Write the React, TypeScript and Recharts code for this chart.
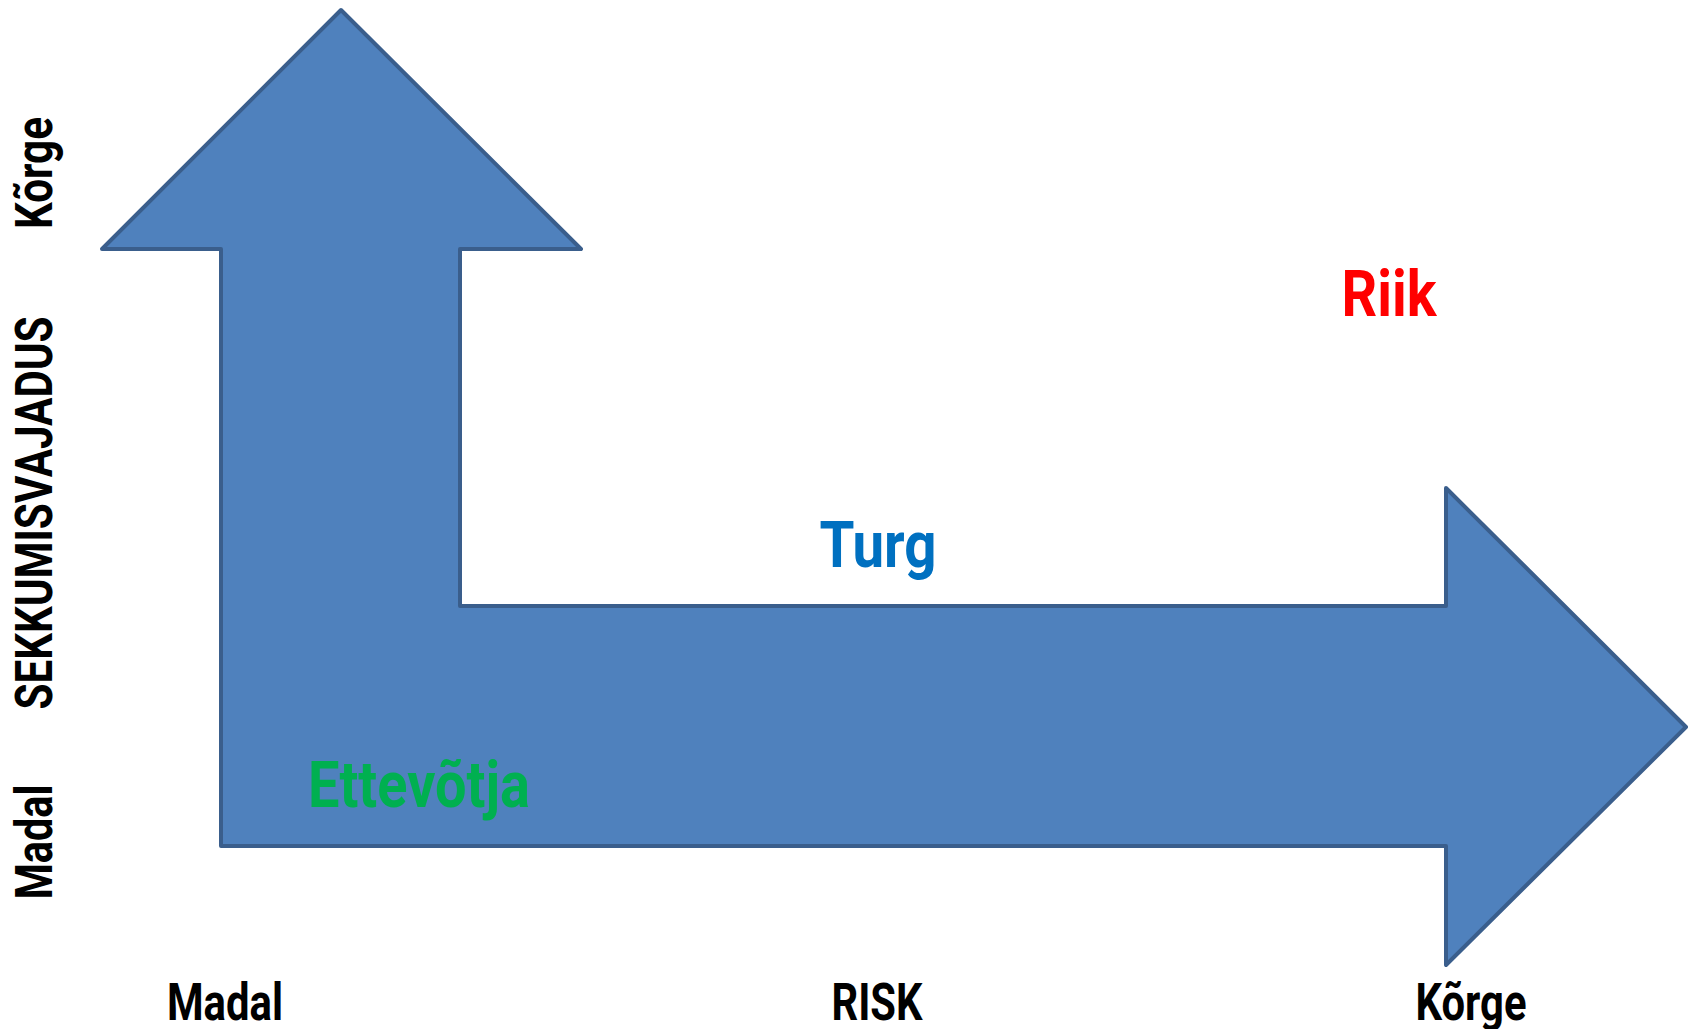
import { ScatterChart, Scatter, XAxis, YAxis } from "recharts";

const CHART_W = 1692;
const CHART_H = 1029;

// arrow outline (x = risk, y = need for intervention), plot units
const arrowX = [261, 501, 380, 380, 1366, 1366, 1606, 1366, 1366, 141, 141, 22];
const arrowY = [960, 721, 721, 364, 364, 482, 243, 5, 124, 124, 721, 721];

// actors placed on the arrow
const actorNames = ["Ettevõtja", "Turg", "Riik"];
const actorX = [339, 798, 1309];
const actorY = [163, 403, 654];

// axis ticks
const riskTicks = [145, 797, 1391];
const riskLabels = ["Madal", "RISK", "Kõrge"];
const needTicks = [128, 457, 797];
const needLabels = ["Madal", "SEKKUMISVAJADUS", "Kõrge"];

const ACTOR_COLORS = ["#00B050", "#0070C0", "#FF0000"];
const ACTOR_WIDTHS = [222, 117, 95];
const RISK_WIDTHS = [116, 91, 111];
const NEED_WIDTHS = [115, 393, 112];
const FONT = "Roboto, 'Liberation Sans', sans-serif";

const arrowData = arrowX.map((x, i) => ({ x, y: arrowY[i] }));
const actorData = actorNames.map((name, i) => ({ x: actorX[i], y: actorY[i], name, i }));

const ArrowShape = (props: any) => {
  const pts = props.points || [];
  const d = pts.map((p: any, i: number) => `${i === 0 ? "M" : "L"}${p.x},${p.y}`).join(" ") + " Z";
  return <path d={d} fill="#4F81BD" stroke="#3A5E8C" strokeWidth={4} strokeLinejoin="round" />;
};

const RiskTick = (props: any) => {
  const { x, y, payload } = props;
  const i = riskTicks.indexOf(payload.value);
  return (
    <text x={x} y={y + 50} textAnchor="middle" fontFamily={FONT} fontWeight={700} fontSize={52} fill="#000"
      textLength={RISK_WIDTHS[i]} lengthAdjust="spacingAndGlyphs">
      {riskLabels[i]}
    </text>
  );
};

const NeedTick = (props: any) => {
  const { x, y, payload } = props;
  const i = needTicks.indexOf(payload.value);
  const bx = x - 28;
  return (
    <text x={bx} y={y} transform={`rotate(-90, ${bx}, ${y})`} textAnchor="middle" fontFamily={FONT}
      fontWeight={700} fontSize={52} fill="#000" textLength={NEED_WIDTHS[i]} lengthAdjust="spacingAndGlyphs">
      {needLabels[i]}
    </text>
  );
};

const ActorLabel = (props: any) => {
  const { cx, cy, payload } = props;
  const i = payload.i;
  return (
    <text x={cx} y={cy} textAnchor="middle" fontFamily={FONT} fontWeight={700} fontSize={65}
      fill={ACTOR_COLORS[i]} textLength={ACTOR_WIDTHS[i]} lengthAdjust="spacingAndGlyphs">
      {payload.name}
    </text>
  );
};

export default function App() {
  return (
    <div style={{ position: "absolute", left: 0, top: 0, width: CHART_W, height: CHART_H, background: "#fff" }}>
      <ScatterChart width={CHART_W} height={CHART_H} margin={{ top: 0, right: 0, bottom: 0, left: 0 }}>
        <XAxis type="number" dataKey="x" domain={[0, 1612]} ticks={riskTicks} height={59}
          axisLine={false} tickLine={false} tickSize={0} tickMargin={0} tick={<RiskTick />} interval={0} />
        <YAxis type="number" dataKey="y" domain={[0, 970]} ticks={needTicks} width={80}
          axisLine={false} tickLine={false} tickSize={0} tickMargin={0} tick={<NeedTick />} interval={0} />
        <Scatter data={arrowData} isAnimationActive={false} line={ArrowShape} lineType="joint"
          shape={() => <g />} />
        <Scatter data={actorData} isAnimationActive={false} shape={ActorLabel} />
      </ScatterChart>
    </div>
  );
}
